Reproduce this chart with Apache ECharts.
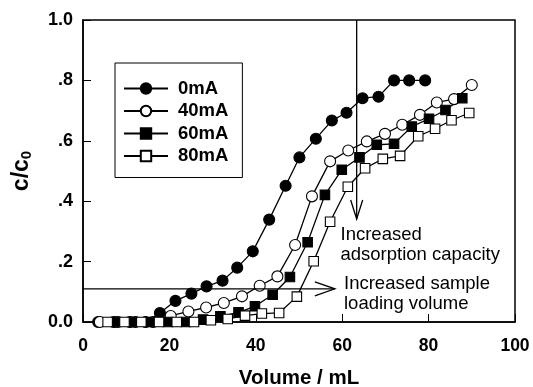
<!DOCTYPE html>
<html>
<head>
<meta charset="utf-8">
<script src="https://cdn.jsdelivr.net/npm/echarts@6/dist/echarts.min.js"></script>
<style>
  html, body { margin: 0; padding: 0; background: #fff; }
  #chart { width: 533px; height: 387px; }
</style>
</head>
<body>
<div id="chart"></div>
<script>
// breakthrough curves, volume (mL) vs c/c0
const vol0mA = [3.5, 7.2, 10.9, 14.5, 17.8, 21.4, 25.1, 28.6, 32.3, 35.7, 39.3, 43.1, 46.9, 50.1, 53.9, 57.6, 61.0, 64.7, 68.4, 72.0, 75.5, 79.2];
const c0mA = [0, 0, 0, 0, 0.03, 0.07, 0.094, 0.118, 0.137, 0.18, 0.234, 0.339, 0.451, 0.545, 0.607, 0.667, 0.693, 0.741, 0.746, 0.8, 0.8, 0.8];

const vol40mA = [3.9, 8.0, 12.1, 16.2, 20.3, 24.4, 28.5, 32.6, 36.8, 40.9, 45.0, 49.1, 53.0, 57.2, 61.4, 65.7, 69.9, 73.9, 78.0, 81.9, 85.9, 90.0];
const c40mA = [0, 0, 0, 0, 0.02, 0.035, 0.048, 0.063, 0.085, 0.12, 0.151, 0.255, 0.416, 0.532, 0.568, 0.598, 0.623, 0.653, 0.686, 0.727, 0.738, 0.785];

const vol60mA = [7.6, 11.5, 15.5, 19.7, 23.8, 27.8, 31.8, 36.0, 39.8, 43.9, 47.9, 52.0, 56.0, 59.9, 64.0, 68.0, 72.0, 76.1, 80.1, 83.9, 87.8];
const c60mA = [0, 0, 0, 0, 0, 0.008, 0.019, 0.032, 0.052, 0.09, 0.149, 0.264, 0.421, 0.504, 0.545, 0.587, 0.59, 0.647, 0.673, 0.702, 0.741];

const vol80mA = [5.7, 9.6, 13.5, 17.6, 21.7, 25.7, 29.6, 33.5, 37.5, 41.4, 45.4, 49.5, 53.4, 57.2, 61.3, 65.3, 69.4, 73.4, 77.6, 81.5, 85.3, 89.4];
const c80mA = [0, 0, 0, 0, 0, 0, 0.006, 0.01, 0.021, 0.028, 0.03, 0.084, 0.201, 0.332, 0.448, 0.509, 0.54, 0.55, 0.615, 0.64, 0.668, 0.692];

// annotation arrows (data coords)
const capacityArrowX = 63.35;
const capacityArrowTipY = 0.341;
const loadingArrowY = 0.11;
const loadingArrowTipX = 58.3;

const font = "'Liberation Sans', Arial, Helvetica, sans-serif";
const zip = (xs, ys) => xs.map((x, i) => [x, ys[i]]);

const chart = echarts.init(document.getElementById('chart'));

const makeSeries = (name, xs, ys, symbol, fill, size) => ({
  name,
  type: 'line',
  data: zip(xs, ys),
  symbol,
  symbolSize: size,
  showAllSymbol: true,
  animation: false,
  lineStyle: { color: '#000', width: 1.3 },
  itemStyle: { color: fill, borderColor: '#000', borderWidth: 1.1 }
});

chart.setOption({
  animation: false,
  textStyle: { fontFamily: font },
  grid: {
    left: 83, right: 18, top: 20, bottom: 65,
    outerBoundsMode: 'none',
    containLabel: false,
    show: true, borderColor: '#000', borderWidth: 1.5
  },
  legend: {
    orient: 'vertical',
    left: 115, top: 63,
    padding: [16, 14, 12, 8],
    borderColor: '#000', borderWidth: 1,
    itemWidth: 44, itemHeight: 13, itemGap: 3.5,
    textStyle: { fontFamily: font, fontWeight: 'bold', fontSize: 18.5, color: '#000', padding: [0, 0, 0, 5] },
    data: ['0mA', '40mA', '60mA', '80mA']
  },
  xAxis: {
    type: 'value',
    min: 0, max: 100, interval: 20,
    name: 'Volume / mL',
    nameLocation: 'middle',
    nameGap: 46,
    nameTextStyle: { fontFamily: font, fontWeight: 'bold', fontSize: 20.5, color: '#000' },
    axisLine: { lineStyle: { color: '#000', width: 1.5 } },
    axisTick: { inside: true, length: 8, lineStyle: { color: '#000', width: 1 } },
    axisLabel: { margin: 15, fontFamily: font, fontWeight: 'bold', fontSize: 17.5, color: '#000' },
    splitLine: { show: false }
  },
  yAxis: {
    type: 'value',
    min: 0, max: 1, interval: 0.2,
    name: 'c/c{sub|0}',
    nameLocation: 'middle',
    nameRotate: 90,
    nameGap: 49,
    nameTextStyle: {
      fontFamily: font, fontWeight: 'bold', fontSize: 23, color: '#000',
      rich: { sub: { fontFamily: font, fontWeight: 'bold', fontSize: 15, color: '#000', padding: [10, 0, 0, 0] } }
    },
    axisLine: { lineStyle: { color: '#000', width: 1.5 } },
    axisTick: { inside: true, length: 8, lineStyle: { color: '#000', width: 1 } },
    axisLabel: {
      margin: 10, fontFamily: font, fontWeight: 'bold', fontSize: 18, color: '#000',
      formatter: v => (v === 0 ? '0.0' : v === 1 ? '1.0' : v.toFixed(1).replace(/^0/, ''))
    },
    splitLine: { show: false }
  },
  series: [
    makeSeries('0mA', vol0mA, c0mA, 'circle', '#000', 11),
    makeSeries('40mA', vol40mA, c40mA, 'circle', '#fff', 11),
    makeSeries('60mA', vol60mA, c60mA, 'rect', '#000', 9.5),
    makeSeries('80mA', vol80mA, c80mA, 'rect', '#fff', 9.5)
  ]
});

// arrows and their notes
const toPx = p => chart.convertToPixel({ gridIndex: 0 }, p);
const capTop = toPx([capacityArrowX, 1]);
const capTip = toPx([capacityArrowX, capacityArrowTipY]);
const loadStart = toPx([0, loadingArrowY]);
const loadTip = toPx([loadingArrowTipX, loadingArrowY]);
const stroke = { stroke: '#000', lineWidth: 1.3, fill: null };

chart.setOption({
  graphic: [
    { type: 'polyline', z: 100, shape: { points: [capTop, capTip] }, style: stroke },
    { type: 'polyline', z: 100, shape: { points: [[capTip[0] - 6, capTip[1] - 19], capTip, [capTip[0] + 6, capTip[1] - 19]] }, style: stroke },
    { type: 'polyline', z: 100, shape: { points: [loadStart, loadTip] }, style: stroke },
    { type: 'polyline', z: 100, shape: { points: [[loadTip[0] - 20, loadTip[1] - 7], loadTip, [loadTip[0] - 20, loadTip[1] + 7]] }, style: stroke },
    {
      type: 'text', z: 100, left: 340.5, top: 225,
      style: { text: 'Increased\nadsorption capacity', font: '18.5px ' + font, lineHeight: 20, fill: '#000' }
    },
    {
      type: 'text', z: 100, left: 344, top: 273.5,
      style: { text: 'Increased sample\nloading volume', font: '18.5px ' + font, lineHeight: 20.5, fill: '#000' }
    }
  ]
});
</script>
</body>
</html>
